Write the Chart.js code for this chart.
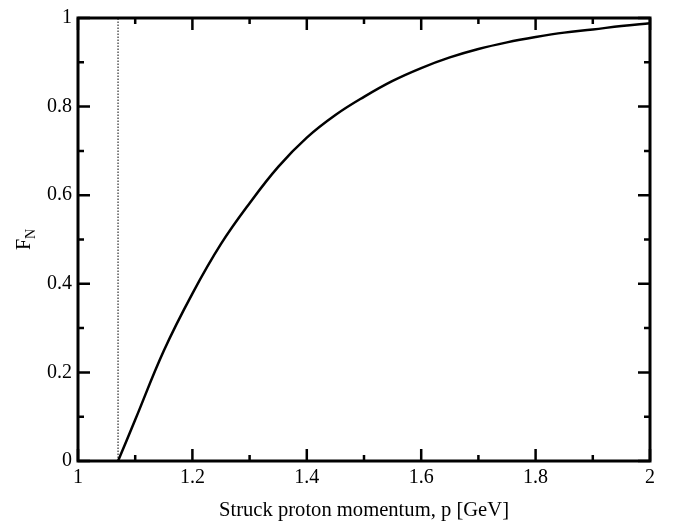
<!DOCTYPE html>
<html>
<head>
<meta charset="utf-8">
<script src="https://cdn.jsdelivr.net/npm/chart.js@4.4.0/dist/chart.umd.min.js"></script>
<style>
  html, body { margin: 0; padding: 0; background: #fff; }
  #wrap { width: 673px; height: 524px; }
</style>
</head>
<body>
<div id="wrap"><canvas id="FnChart"></canvas></div>
<script>
// momentum p [GeV] and F_N
const momentum = [1.07, 1.1, 1.15, 1.2, 1.25, 1.3, 1.35, 1.4, 1.45, 1.5, 1.55, 1.6, 1.65, 1.7, 1.75, 1.8, 1.85, 1.9, 1.95, 2.0];
const fnValues = [0, 0.093, 0.249, 0.378, 0.49, 0.582, 0.664, 0.73, 0.781, 0.822, 0.858, 0.887, 0.911, 0.93, 0.945, 0.957, 0.967, 0.974, 0.982, 0.988];
const thresholdP = [1.07, 1.07];
const thresholdF = [0, 1];
const xMajor = [1, 1.2, 1.4, 1.6, 1.8, 2];
const yMajor = [0, 0.2, 0.4, 0.6, 0.8, 1];

const FONT = '"Liberation Serif", "Times New Roman", serif';

function toPoints(xs, ys) {
    return xs.map(function (x, i) { return { x: x, y: ys[i] }; });
}

// inward ticks on all four sides + frame + y title with subscript
const framePlugin = {
    id: 'frame',
    afterDatasetsDraw: function (chart) {
        const ctx = chart.ctx;
        const a = chart.chartArea;
        const xs = chart.scales.x, ys = chart.scales.y;
        ctx.save();
        ctx.strokeStyle = '#000';
        ctx.lineWidth = 2.5;
        ctx.beginPath();
        for (let i = 0; i <= 10; i++) {
            const px = xs.getPixelForValue(1 + i / 10);
            const len = i % 2 === 0 ? 12 : 6;
            ctx.moveTo(px, a.bottom); ctx.lineTo(px, a.bottom - len);
            ctx.moveTo(px, a.top); ctx.lineTo(px, a.top + len);
        }
        for (let i = 0; i <= 10; i++) {
            const py = ys.getPixelForValue(i / 10);
            const len = i % 2 === 0 ? 12 : 6;
            ctx.moveTo(a.left, py); ctx.lineTo(a.left + len, py);
            ctx.moveTo(a.right, py); ctx.lineTo(a.right - len, py);
        }
        ctx.stroke();
        ctx.lineWidth = 3;
        ctx.strokeRect(a.left, a.top, a.right - a.left, a.bottom - a.top);

        ctx.translate(30, 243);
        ctx.rotate(-Math.PI / 2);
        ctx.fillStyle = '#000';
        ctx.textBaseline = 'alphabetic';
        ctx.font = '20px ' + FONT;
        ctx.fillText('F', -7, 0);
        ctx.font = '14px ' + FONT;
        ctx.fillText('N', 4, 5);
        ctx.restore();
    }
};

new Chart(document.getElementById('FnChart'), {
    type: 'line',
    data: {
        datasets: [{
            data: toPoints(momentum, fnValues),
            borderColor: '#000',
            borderWidth: 2.5,
            pointRadius: 0,
            tension: 0.4
        }, {
            data: toPoints(thresholdP, thresholdF),
            borderColor: '#000',
            borderWidth: 1,
            borderDash: [1.5, 1.5],
            pointRadius: 0
        }]
    },
    options: {
        responsive: true,
        maintainAspectRatio: false,
        animation: false,
        layout: { padding: { top: 14, right: 23, left: 0, bottom: 0 } },
        plugins: { legend: { display: false }, tooltip: { enabled: false } },
        scales: {
            x: {
                type: 'linear',
                min: 1, max: 2,
                afterBuildTicks: function (s) { s.ticks = xMajor.map(function (v) { return { value: v }; }); },
                afterFit: function (s) { s.height = 63; },
                grid: { display: false, drawTicks: false },
                border: { display: false },
                ticks: { color: '#000', padding: 5, font: { family: FONT, size: 20 }, maxRotation: 0,
                         callback: function (v) { return String(Math.round(v * 10) / 10); } },
                title: { display: true, text: 'Struck proton momentum, p [GeV]', color: '#000',
                         padding: { top: 4, bottom: 1 }, font: { family: FONT, size: 20.6 } }
            },
            y: {
                type: 'linear',
                min: 0, max: 1,
                afterBuildTicks: function (s) { s.ticks = yMajor.map(function (v) { return { value: v }; }); },
                afterFit: function (s) { s.width = 78; },
                grid: { display: false, drawTicks: false },
                border: { display: false },
                ticks: { color: '#000', padding: 6, font: { family: FONT, size: 20 },
                         callback: function (v) { return String(Math.round(v * 10) / 10); } }
            }
        }
    },
    plugins: [framePlugin]
});
</script>
</body>
</html>
